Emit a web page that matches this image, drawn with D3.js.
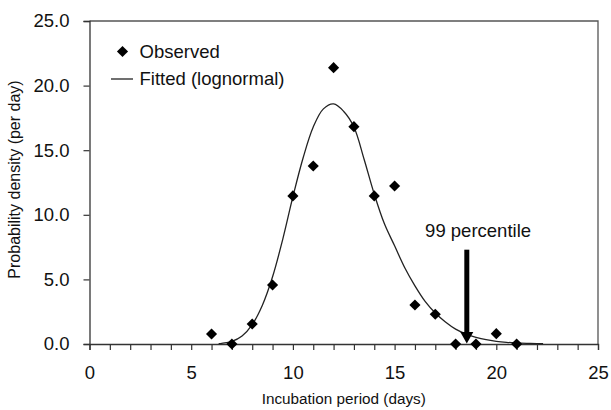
<!DOCTYPE html>
<html>
<head>
<meta charset="utf-8">
<script src="https://cdn.jsdelivr.net/npm/d3@7"></script>
<style>
  html, body { margin: 0; padding: 0; background: #fff; }
  svg { display: block; font-family: "Liberation Sans", Arial, sans-serif; }
</style>
</head>
<body>
<svg id="chart" width="611" height="410"></svg>
<script>
// ---- data ----
const days = [6, 7, 8, 9, 10, 11, 12, 13, 14, 15, 16, 17, 18, 19, 20, 21];
const observed = [0.77, 0, 1.55, 4.57, 11.46, 13.78, 21.39, 16.82, 11.46, 12.23, 3.02, 2.30, 0, 0, 0.80, 0];

const fitDays = [6.35, 6.5, 7, 7.5, 8, 8.5, 9, 9.5, 10, 10.5, 11, 11.5, 12, 12.5, 13, 13.5, 14, 14.5,
                 15, 15.5, 16, 16.5, 17, 17.5, 18, 18.5, 19, 19.5, 20, 20.5, 21, 21.5, 22, 22.3];
const fitValues = [0.03, 0.05, 0.2, 0.62, 1.5, 3.0, 5.2, 8.1, 11.4, 14.4, 16.8, 18.2, 18.58, 18.0, 16.8, 14.3, 11.6, 9.3,
                   7.6, 5.9, 4.5, 3.3, 2.4, 1.7, 1.15, 0.78, 0.52, 0.33, 0.21, 0.13, 0.08, 0.05, 0.03, 0.02];

const xTicks = d3.range(0, 26, 1);
const xTickLabels = [0, 5, 10, 15, 20, 25];
const yTicks = [0, 5, 10, 15, 20, 25];

const percentileDay = 18.55;
const arrowTop = 7.3;
const percentileLabel = "99 percentile";
const legendLabels = ["Observed", "Fitted (lognormal)"];
const xTitle = "Incubation period (days)";
const yTitle = "Probability density (per day)";

// ---- layout ----
const svg = d3.select("#chart");
const x = d3.scaleLinear().domain([0, 25]).range([89.5, 598]);
const y = d3.scaleLinear().domain([0, 25]).range([344, 21]);
const axisColor = "#333";
const ink = "#111";

// frame (top and right)
svg.append("path")
  .attr("d", `M${x(0)},${y(25)}H${x(25)}V${y(0)}`)
  .attr("fill", "none").attr("stroke", "#555").attr("stroke-width", 1.3);

// x axis
const xAxis = svg.append("g").attr("transform", `translate(0,${y(0)})`)
  .call(d3.axisBottom(x).tickValues(xTicks).tickSize(6).tickPadding(16)
    .tickFormat(d => xTickLabels.includes(d) ? d : ""));
// y axis
const yAxis = svg.append("g").attr("transform", `translate(${x(0)},0)`)
  .call(d3.axisLeft(y).tickValues(yTicks).tickSize(6).tickPadding(14).tickFormat(d3.format(".1f")));

[xAxis, yAxis].forEach(g => {
  g.select(".domain").attr("stroke", axisColor).attr("stroke-width", 1.3);
  g.selectAll(".tick line").attr("stroke", axisColor).attr("stroke-width", 1.2);
  g.selectAll(".tick text").attr("fill", ink).style("font-size", "18.5px");
});

// axis titles
svg.append("text")
  .attr("x", (x(0) + x(25)) / 2).attr("y", 404)
  .attr("text-anchor", "middle").attr("fill", ink)
  .style("font-size", "15.3px")
  .text(xTitle);
svg.append("text")
  .attr("transform", `translate(20,${(y(0) + y(25)) / 2 - 3}) rotate(-90)`)
  .attr("text-anchor", "middle").attr("fill", ink)
  .style("font-size", "16px")
  .text(yTitle);

// fitted curve
const line = d3.line()
  .x((d, i) => x(fitDays[i]))
  .y(d => y(d))
  .curve(d3.curveCatmullRom.alpha(0.5));
svg.append("path")
  .datum(fitValues)
  .attr("d", line)
  .attr("fill", "none").attr("stroke", "#222").attr("stroke-width", 1.3);

// observed diamonds
const diamond = d3.symbol(d3.symbolSquare, 62);
svg.append("g").selectAll("path")
  .data(days.map((d, i) => [d, observed[i]]))
  .join("path")
  .attr("d", diamond)
  .attr("transform", d => `translate(${x(d[0])},${y(d[1])}) rotate(45)`)
  .attr("fill", "#000");

// 99 percentile arrow
const ax = x(percentileDay);
const headLen = 12, headHalf = 6.5;
svg.append("line")
  .attr("x1", ax).attr("x2", ax)
  .attr("y1", y(arrowTop)).attr("y2", y(0) - headLen + 1)
  .attr("stroke", "#000").attr("stroke-width", 5);
svg.append("path")
  .attr("d", `M${ax - headHalf},${y(0) - headLen}L${ax + headHalf},${y(0) - headLen}L${ax},${y(0) - 0.5}Z`)
  .attr("fill", "#000");
svg.append("text")
  .attr("x", x(16.5)).attr("y", 236.5)
  .attr("fill", ink).style("font-size", "18.5px")
  .text(percentileLabel);

// legend
const lg = svg.append("g");
lg.append("path")
  .attr("d", diamond)
  .attr("transform", `translate(122.5,51.5) rotate(45)`)
  .attr("fill", "#000");
lg.append("text").attr("x", 139.5).attr("y", 57.5)
  .attr("fill", ink).style("font-size", "18.5px").text(legendLabels[0]);
lg.append("line").attr("x1", 111).attr("x2", 133).attr("y1", 79).attr("y2", 79)
  .attr("stroke", "#222").attr("stroke-width", 1.3);
lg.append("text").attr("x", 139.5).attr("y", 84.5)
  .attr("fill", ink).style("font-size", "18.5px").text(legendLabels[1]);
</script>
</body>
</html>
